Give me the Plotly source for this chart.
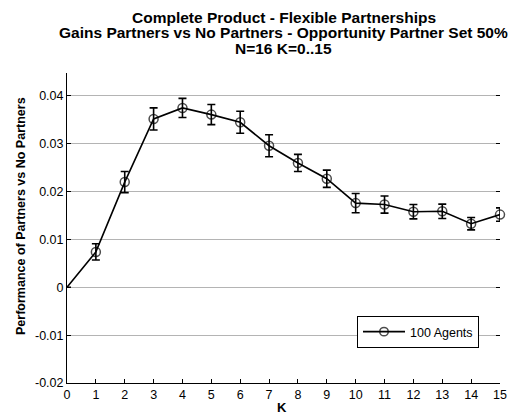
import plotly.graph_objects as go

K = list(range(16))
perf = [0.0, 0.0074, 0.0220, 0.0352, 0.0375, 0.0361, 0.0345, 0.0296,
        0.0260, 0.0227, 0.0176, 0.0173, 0.0158, 0.0159, 0.0133, 0.0152]
err = [None, 0.0017, 0.0022, 0.0023, 0.0020, 0.0021, 0.0023, 0.0023,
       0.0018, 0.0018, 0.0020, 0.0018, 0.0015, 0.0015, 0.0013, 0.0014]
marker_sizes = [0] + [9] * 15
x_ticks = list(range(16))
y_ticks = [-0.02, -0.01, 0, 0.01, 0.02, 0.03, 0.04]
y_labels = ["-0.02", "-0.01", "0", "0.01", "0.02", "0.03", "0.04"]
title_lines = ["Complete Product - Flexible Partnerships",
               "Gains Partners vs No Partners - Opportunity Partner Set 50%",
               "N=16 K=0..15"]

font = "Liberation Sans, Arial, sans-serif"
L, R, T, B = 67, 16, 73, 34
H = 417
PH = H - T - B

def py(p):
    return (H - B - p) / PH

fig = go.Figure()
fig.add_trace(go.Scatter(
    x=K, y=perf, mode="lines+markers", name="100 Agents",
    line=dict(color="black", width=1.6),
    marker=dict(symbol="circle-open", size=marker_sizes, color="black",
                line=dict(width=1.5, color="black")),
    error_y=dict(type="data", array=err, visible=True, color="black",
                 thickness=1.6, width=4),
    cliponaxis=False,
))
fig.add_trace(go.Scatter(x=[None], y=[None], yaxis="y2", showlegend=False, hoverinfo="skip"))

annotations = []
for i, (txt, yc) in enumerate(zip(title_lines, [18, 33, 48])):
    annotations.append(dict(text="<b>%s</b>" % txt, xref="paper", yref="paper",
                            x=0.5, y=py(yc), xanchor="center", yanchor="middle",
                            showarrow=False, font=dict(family=font, size=15.5, color="black")))
annotations.append(dict(text="<b>Performance of Partners vs No Partners</b>", xref="paper", yref="paper",
                        x=(21 - L) / (516 - L - R), y=py(216), xanchor="center", yanchor="middle",
                        textangle=-90, showarrow=False, font=dict(family=font, size=12.5, color="black")))
annotations.append(dict(text="<b>K</b>", xref="paper", yref="paper",
                        x=(282 - L) / (516 - L - R), y=py(407), xanchor="center", yanchor="middle",
                        showarrow=False, font=dict(family=font, size=13, color="black")))

fig.update_layout(
    width=516, height=417,
    margin=dict(l=L, r=R, t=T, b=B, autoexpand=False),
    paper_bgcolor="white", plot_bgcolor="white",
    font=dict(family=font, size=12.5, color="black"),
    annotations=annotations,
    showlegend=True,
    legend=dict(
        x=(357 - L) / (516 - L - R), y=py(316), xanchor="left", yanchor="top",
        bordercolor="black", borderwidth=1, bgcolor="white", itemwidth=42,
        font=dict(family=font, size=12.5, color="black"),
    ),
    xaxis=dict(
        range=[0, 15], tickvals=x_ticks, ticktext=[str(v) for v in x_ticks],
        showgrid=False, zeroline=False,
        showline=True, linecolor="black", linewidth=1,
        ticks="inside", ticklen=4, tickcolor="black",
    ),
    yaxis=dict(
        range=[-0.02, 0.0448], tickvals=y_ticks, ticktext=y_labels,
        showgrid=True, gridcolor="#b4b4b4", gridwidth=1, zeroline=False,
        showline=True, linecolor="black", linewidth=1,
        ticks="inside", ticklen=4, tickcolor="black",
    ),
    yaxis2=dict(
        range=[-0.02, 0.0448], tickvals=y_ticks, overlaying="y", side="right",
        showticklabels=False, showgrid=False, zeroline=False, showline=False,
        ticks="inside", ticklen=4, tickcolor="black",
    ),
)

fig.write_html("out.html", config={"displayModeBar": False},
               post_script="document.body.style.margin='0px';")
